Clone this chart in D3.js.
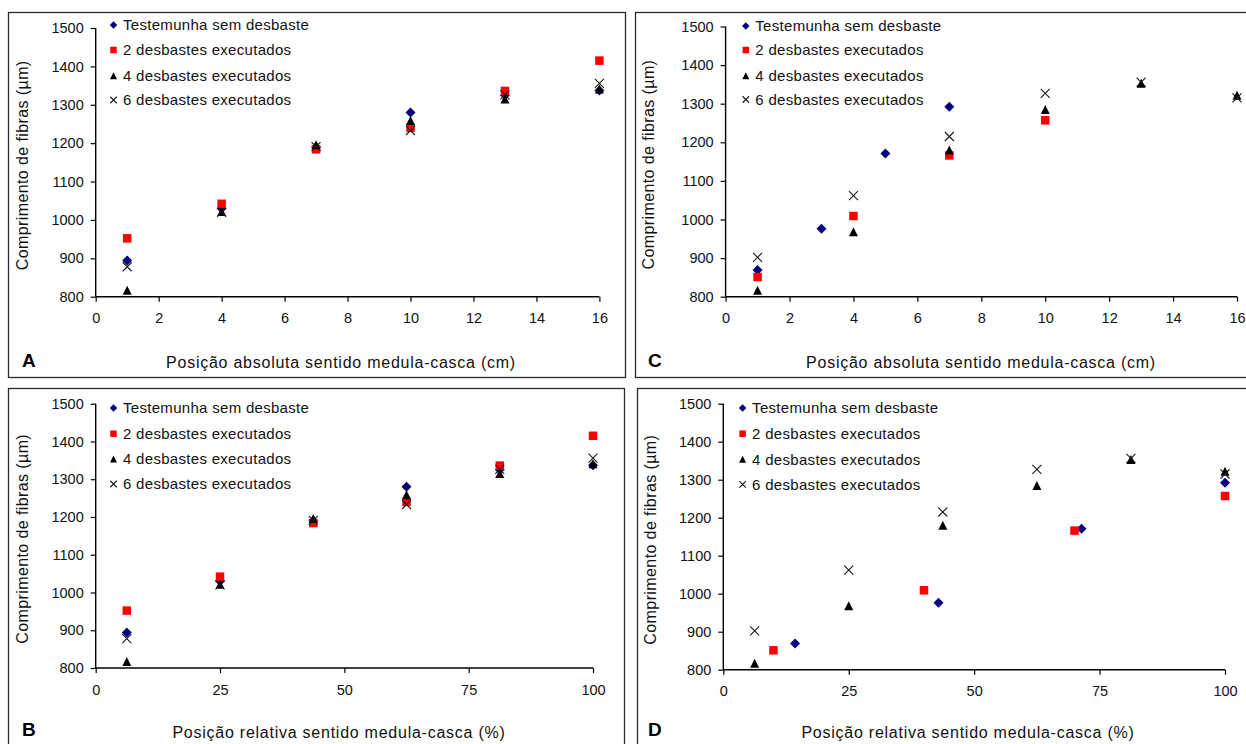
<!DOCTYPE html>
<html>
<head>
<meta charset="utf-8">
<script src="https://cdn.jsdelivr.net/npm/d3@7"></script>
<style>
  html, body { margin: 0; padding: 0; background: #fff; }
  svg { display: block; font-family: Arial, "Liberation Sans", sans-serif; }
</style>
</head>
<body>
<svg id="chart" width="1246" height="744"></svg>
<script>
// Radial positions (pith to bark)
const posAbsFull = [1, 4, 7, 10, 13, 16];          // cm
const posRelFull = [6.25, 25, 43.75, 62.5, 81.25, 100]; // %

// Panels A and B: fibre length (µm)
const testemunhaAB = [894, 1030, 1190, 1280, 1325, 1337];
const desb2AB      = [952, 1042, 1184, 1240, 1336, 1415];
const desb4AB      = [817, 1022, 1196, 1259, 1315, 1341];
const desb6AB      = [878, 1020, 1191, 1233, 1326, 1356];

// Panels C and D: fibre length (µm)
const testemunhaPosAbs = [1, 3, 5, 7];
const testemunhaPosRel = [14.3, 42.9, 71.4, 100];
const testemunhaCD     = [869, 976, 1171, 1292];
const desb2PosAbs      = [1, 4, 7, 10];
const desb2PosRel      = [10, 40, 70, 100];
const desb2CD          = [851, 1009, 1166, 1257];
const desb4CD          = [817, 968, 1180, 1285, 1353, 1322];
const desb6CD          = [902, 1062, 1215, 1327, 1356, 1315];

// Axis ticks
const yTicks    = [800, 900, 1000, 1100, 1200, 1300, 1400, 1500];
const xTicksAbs = [0, 2, 4, 6, 8, 10, 12, 14, 16];
const xTicksRel = [0, 25, 50, 75, 100];

const seriesNames = [
  "Testemunha sem desbaste",
  "2 desbastes executados",
  "4 desbastes executados",
  "6 desbastes executados"
];

const yTitle = "Comprimento de fibras (µm)";
const xTitleAbs = "Posição absoluta sentido medula-casca (cm)";
const xTitleRel = "Posição relativa sentido medula-casca (%)";

const zip = (xs, ys) => xs.map((x, i) => ({ x, y: ys[i] }));

// marker styles
const markerStyles = [
  { shape: "diamond",  fill: "#000080", size: 10,  legendSize: 7.5 },
  { shape: "square",   fill: "#ff0000", size: 8.5, legendSize: 6.5 },
  { shape: "triangle", fill: "#000000", size: 9,   legendSize: 7 },
  { shape: "cross",    fill: "none",    size: 9,   legendSize: 6.5 }
];

function markerPath(shape, s) {
  const h = s / 2;
  switch (shape) {
    case "diamond":  return `M0,${-h}L${h},0L0,${h}L${-h},0Z`;
    case "square":   return `M${-h},${-h}H${h}V${h}H${-h}Z`;
    case "triangle": return `M0,${-h}L${h},${h}H${-h}Z`;
    default:         return `M${-h},${-h}L${h},${h}M${h},${-h}L${-h},${h}`;
  }
}

function drawMarker(sel, style, size) {
  const p = sel.append("path").attr("d", markerPath(style.shape, size));
  if (style.shape === "cross") {
    p.attr("fill", "none").attr("stroke", "#1a1a1a").attr("stroke-width", 1.1);
  } else {
    p.attr("fill", style.fill);
  }
  return p;
}

const panels = [
  {
    letter: "A", frame: [8, 12, 617, 365],
    xRange: [95.7, 599.4], yRange: [296.7, 28], xDomain: [0, 16], xTicks: xTicksAbs,
    legendX: 113.5, legendY: [25, 50, 75.7, 100],
    xTitle: xTitleAbs, xTitleX: 341, xTitleY: 367.5, tickLabelY: 323.5,
    yTitleX: 22, letterX: 22, letterY: 367,
    series: [
      zip(posAbsFull, testemunhaAB), zip(posAbsFull, desb2AB),
      zip(posAbsFull, desb4AB), zip(posAbsFull, desb6AB)
    ]
  },
  {
    letter: "C", frame: [635, 12, 640, 365],
    xRange: [725.6, 1237], yRange: [296.7, 26.5], xDomain: [0, 16], xTicks: xTicksAbs,
    legendX: 745.8, legendY: [26, 50, 75.7, 99.5],
    xTitle: xTitleAbs, xTitleX: 981, xTitleY: 367.5, tickLabelY: 323.5,
    yTitleX: 648.5, letterX: 648, letterY: 367,
    series: [
      zip(testemunhaPosAbs, testemunhaCD), zip(desb2PosAbs, desb2CD),
      zip(posAbsFull, desb4CD), zip(posAbsFull, desb6CD)
    ]
  },
  {
    letter: "B", frame: [8, 388, 616, 400],
    xRange: [95.7, 593], yRange: [668, 403.7], xDomain: [0, 100], xTicks: xTicksRel,
    legendX: 113.5, legendY: [408, 433.7, 459, 484],
    xTitle: xTitleRel, xTitleX: 339, xTitleY: 737.5, tickLabelY: 695,
    yTitleX: 22, letterX: 22, letterY: 736,
    series: [
      zip(posRelFull, testemunhaAB), zip(posRelFull, desb2AB),
      zip(posRelFull, desb4AB), zip(posRelFull, desb6AB)
    ]
  },
  {
    letter: "D", frame: [637, 388, 640, 400],
    xRange: [723.3, 1225], yRange: [669.7, 403.7], xDomain: [0, 100], xTicks: xTicksRel,
    legendX: 742.6, legendY: [408, 433.7, 459.3, 484.3],
    xTitle: xTitleRel, xTitleX: 968, xTitleY: 737.5, tickLabelY: 696,
    yTitleX: 650.5, letterX: 648, letterY: 736,
    series: [
      zip(testemunhaPosRel, testemunhaCD), zip(desb2PosRel, desb2CD),
      zip(posRelFull, desb4CD), zip(posRelFull, desb6CD)
    ]
  }
];

const svg = d3.select("#chart");
svg.append("rect").attr("width", 1246).attr("height", 744).attr("fill", "#fff");

panels.forEach(p => {
  const g = svg.append("g");

  // panel frame
  g.append("rect")
    .attr("x", p.frame[0] + 0.5).attr("y", p.frame[1] + 0.5)
    .attr("width", p.frame[2]).attr("height", p.frame[3])
    .attr("fill", "none").attr("stroke", "#2b2b2b").attr("stroke-width", 1.3);

  const x = d3.scaleLinear().domain(p.xDomain).range(p.xRange);
  const y = d3.scaleLinear().domain([800, 1500]).range(p.yRange);

  // y axis
  const yAxis = g.append("g")
    .attr("transform", `translate(${p.xRange[0]},0)`)
    .call(d3.axisLeft(y).tickValues(yTicks).tickSize(5).tickPadding(7).tickFormat(d3.format("d")));
  // x axis
  const xAxis = g.append("g")
    .attr("transform", `translate(0,${p.yRange[0]})`)
    .call(d3.axisBottom(x).tickValues(p.xTicks).tickSize(5).tickPadding(9).tickFormat(d3.format("d")));

  [yAxis, xAxis].forEach(a => {
    a.select(".domain").attr("stroke", "#000").attr("stroke-width", 1.4);
    a.selectAll(".tick line").attr("stroke", "#000").attr("stroke-width", 1.2);
    a.selectAll(".tick text").attr("fill", "#111")
      .style("font-size", "14.5px").style("font-family", "Arial, 'Liberation Sans', sans-serif");
  });
  // plain axis lines without end caps
  yAxis.select(".domain").attr("d", `M0,${p.yRange[0]}V${p.yRange[1]}`);
  xAxis.select(".domain").attr("d", `M${p.xRange[0]},0H${p.xRange[1]}`);
  xAxis.selectAll(".tick text").attr("dy", null).attr("y", p.tickLabelY - p.yRange[0]);

  // y axis title
  g.append("text")
    .attr("transform", `translate(${p.yTitleX},${(p.yRange[0] + p.yRange[1]) / 2 + 3}) rotate(-90)`)
    .attr("text-anchor", "middle").attr("dy", "0.35em")
    .style("font-size", "16px").style("letter-spacing", "0.4px")
    .attr("fill", "#111").text(yTitle);

  // x axis title
  g.append("text")
    .attr("x", p.xTitleX).attr("y", p.xTitleY)
    .attr("text-anchor", "middle")
    .style("font-size", "16px").style("letter-spacing", "0.75px")
    .attr("fill", "#111").text(p.xTitle);

  // panel letter
  g.append("text")
    .attr("x", p.letterX).attr("y", p.letterY)
    .style("font-size", "19px").style("font-weight", "bold")
    .attr("fill", "#000").text(p.letter);

  // data markers
  p.series.forEach((pts, i) => {
    const st = markerStyles[i];
    g.append("g").selectAll("g").data(pts).join("g")
      .attr("transform", d => `translate(${x(d.x)},${y(d.y)})`)
      .each(function () { drawMarker(d3.select(this), st, st.size); });
  });

  // legend
  seriesNames.forEach((name, i) => {
    const st = markerStyles[i];
    const row = g.append("g").attr("transform", `translate(${p.legendX},${p.legendY[i]})`);
    drawMarker(row, st, st.legendSize);
    row.append("text")
      .attr("x", 9.5).attr("y", 0).attr("dy", "0.36em")
      .style("font-size", "15px").style("letter-spacing", "0.3px")
      .attr("fill", "#111").text(name);
  });
});
</script>
</body>
</html>
